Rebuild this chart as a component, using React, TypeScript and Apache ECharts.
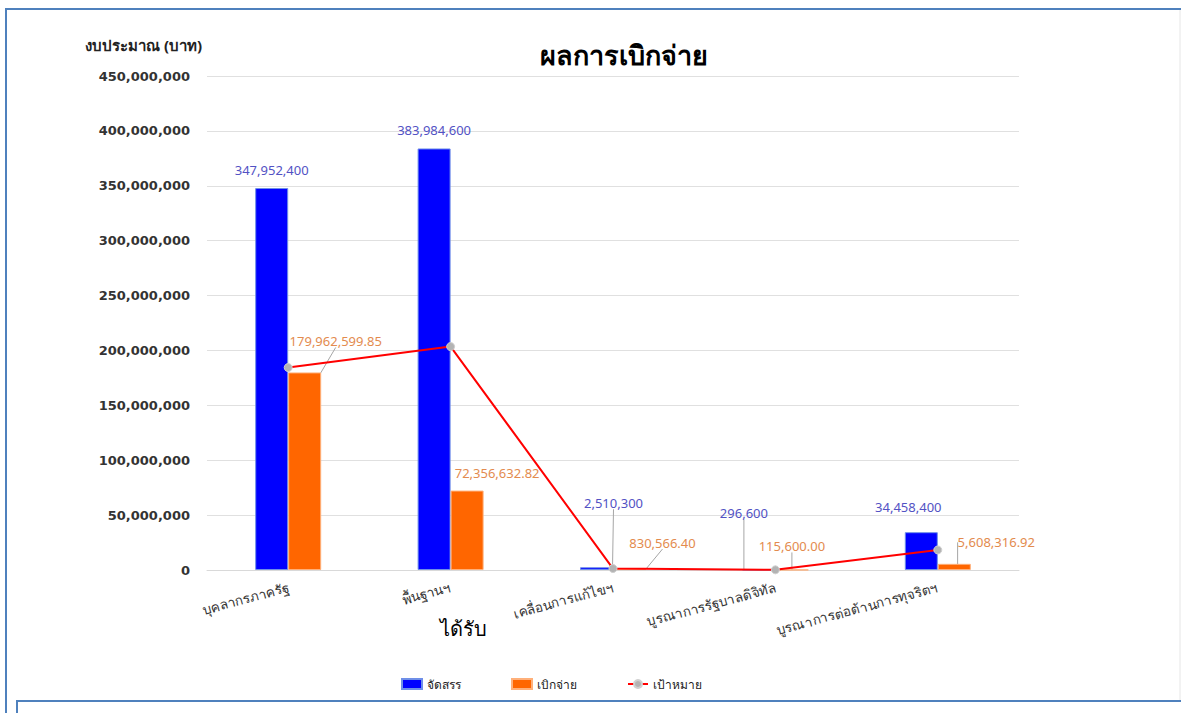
import React, { useEffect, useRef } from "react";
import * as echarts from "echarts";

// Budget categories and amounts (THB)
const categories = [
  "บุคลากรภาครัฐ",
  "พื้นฐานฯ",
  "เคลื่อนการแก้ไขฯ",
  "บูรณาการรัฐบาลดิจิทัล",
  "บูรณาการต่อต้านการทุจริตฯ",
];
const allocated = [347952400, 383984600, 2510300, 296600, 34458400];
const disbursed = [179962599.85, 72356632.82, 830566.4, 115600.0, 5608316.92];
const target = [184414772, 203511838, 1330459, 157198, 18262952];

const yTicks = { min: 0, max: 450000000, interval: 50000000 };

// label nudges (px) so value labels don't collide, and whether a leader line is drawn
const allocatedLabelShift = [
  [0, 0],
  [0, 0],
  [17, -46],
  [-15, -38],
  [-13, -7],
];
const allocatedLeader = [false, false, true, true, false];
const disbursedLabelShift = [
  [31, -20],
  [30, -6],
  [33, -15],
  [0, -12],
  [42, -10],
];
const disbursedLeader = [true, false, true, true, true];

const FONT = "Tahoma, 'Noto Sans', 'DejaVu Sans', sans-serif";
const NUM_FONT = "'DejaVu Sans', Tahoma, sans-serif";

export default function App() {
  const ref = useRef<HTMLDivElement>(null);

  useEffect(() => {
    if (!ref.current) return;
    const chart = echarts.init(ref.current, null, { renderer: "svg" });
    const fmtInt = (v: number) => Math.round(v).toLocaleString("en-US");
    const fmtDec = (v: number) =>
      v.toLocaleString("en-US", { minimumFractionDigits: 2, maximumFractionDigits: 2 });
    const leaderStyle = { color: "#a6a6a6", width: 1 };

    chart.setOption({
      animation: false,
      backgroundColor: "#ffffff",
      textStyle: { fontFamily: FONT },
      title: {
        text: "ผลการเบิกจ่าย",
        left: 619,
        top: 36,
        textAlign: "center",
        textStyle: { fontSize: 27, fontWeight: "bold", color: "#000", fontFamily: FONT },
      },
      legend: {
        bottom: 18,
        left: 396,
        itemWidth: 20,
        itemHeight: 10,
        itemGap: 50,
        textStyle: { fontSize: 12, color: "#222", fontFamily: FONT },
        data: [
          { name: "จัดสรร", icon: "rect" },
          { name: "เบิกจ่าย", icon: "rect" },
          { name: "เป้าหมาย" },
        ],
      },
      grid: { left: 207, right: 162, top: 76, bottom: 143 },
      xAxis: {
        type: "category",
        data: categories,
        axisLine: { show: true, lineStyle: { color: "#d9d9d9", width: 1 } },
        axisTick: { show: false },
        axisLabel: {
          rotate: 15,
          interval: 0,
          margin: 17,
          fontSize: 13.5,
          color: "#333",
          fontFamily: FONT,
        },
      },
      yAxis: {
        type: "value",
        min: yTicks.min,
        max: yTicks.max,
        interval: yTicks.interval,
        axisLine: { show: false },
        axisTick: { show: false },
        splitLine: { lineStyle: { color: "#e0e0e0", width: 1 } },
        axisLabel: {
          margin: 17,
          fontSize: 13,
          color: "#333",
          fontWeight: "bold",
          fontFamily: NUM_FONT,
          formatter: (v: number) => v.toLocaleString("en-US"),
        },
      },
      series: [
        {
          name: "จัดสรร",
          type: "bar",
          data: allocated.map((v, i) => ({
            value: v,
            labelLine: { show: allocatedLeader[i], lineStyle: leaderStyle },
          })),
          barWidth: 33,
          barGap: "0%",
          itemStyle: { color: "#0000ff", borderColor: "#6f8fe8", borderWidth: 1 },
          label: {
            show: true,
            position: "top",
            distance: 12,
            fontSize: 13,
            color: "#5252c4",
            fontFamily: FONT,
            formatter: (p: any) => fmtInt(p.value),
          },
          labelLine: { show: true, lineStyle: leaderStyle },
          labelLayout: (p: any) => {
            const s = allocatedLabelShift[p.dataIndex];
            return { dx: s[0], dy: s[1] };
          },
        },
        {
          name: "เบิกจ่าย",
          type: "bar",
          data: disbursed.map((v, i) => ({
            value: v,
            labelLine: { show: disbursedLeader[i], lineStyle: leaderStyle },
          })),
          barWidth: 33,
          itemStyle: { color: "#ff6600", borderColor: "#ffb07a", borderWidth: 1 },
          label: {
            show: true,
            position: "top",
            distance: 5,
            fontSize: 13,
            color: "#e38b4e",
            fontFamily: FONT,
            formatter: (p: any) => fmtDec(p.value),
          },
          labelLine: { show: true, lineStyle: leaderStyle },
          labelLayout: (p: any) => {
            const s = disbursedLabelShift[p.dataIndex];
            return { dx: s[0], dy: s[1] };
          },
        },
        {
          name: "เป้าหมาย",
          type: "line",
          data: target,
          z: 5,
          symbol: "circle",
          symbolSize: 8,
          lineStyle: { color: "#ff0000", width: 2 },
          itemStyle: { color: "#b3b3b3", borderColor: "#d0d0d0", borderWidth: 1 },
        },
      ],
      graphic: [
        {
          type: "rect",
          silent: true,
          shape: { x: 6, y: 9, width: 1200, height: 720 },
          style: { fill: "none", stroke: "#4f81bd", lineWidth: 2 },
        },
        {
          type: "line",
          silent: true,
          shape: { x1: 1180, y1: 10, x2: 1180, y2: 713 },
          style: { stroke: "#e6e6e6", lineWidth: 1 },
        },
        {
          type: "rect",
          silent: true,
          shape: { x: 17, y: 701, width: 1180, height: 40 },
          style: { fill: "#fff", stroke: "#4f81bd", lineWidth: 2 },
        },
        {
          type: "text",
          left: 85,
          top: 37,
          style: {
            text: "งบประมาณ (บาท)",
            fontSize: 15,
            fontWeight: "bold",
            fill: "#222",
            fontFamily: FONT,
          },
        },
        {
          type: "text",
          left: 440,
          top: 618,
          style: {
            text: "ได้รับ",
            fontSize: 20,
            fill: "#000",
            fontFamily: FONT,
          },
        },
      ],
    });

    return () => chart.dispose();
  }, []);

  return (
    <div
      ref={ref}
      style={{ position: "absolute", left: 0, top: 0, width: 1181, height: 713 }}
    />
  );
}
